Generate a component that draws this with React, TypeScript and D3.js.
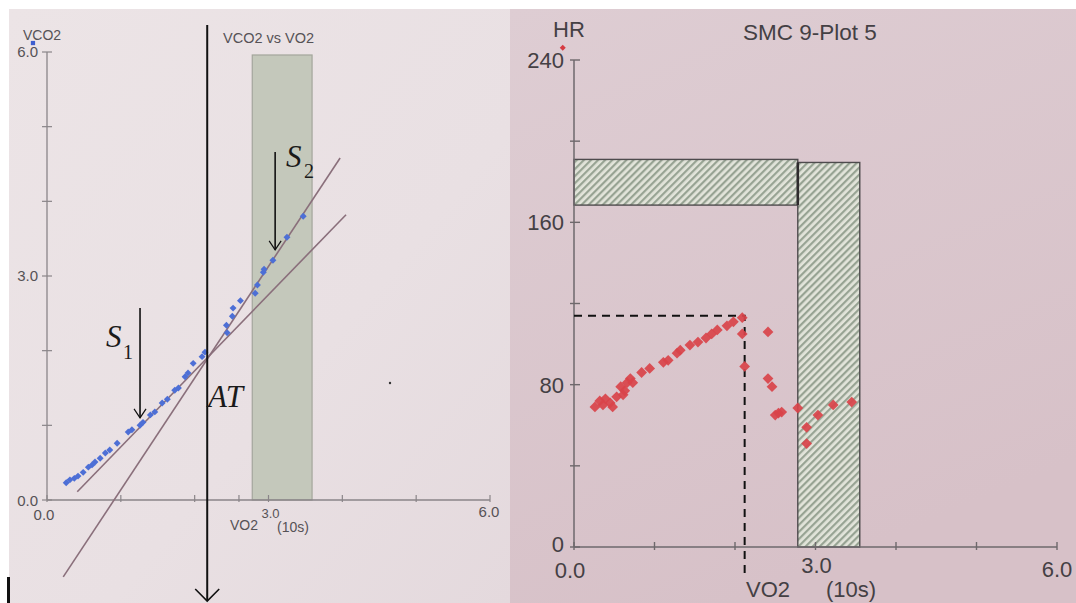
import React from "react";
import * as d3 from "d3";

// ---- VCO2 vs VO2 (left panel) ----
const vo2Blue = [0.26, 0.31, 0.37, 0.42, 0.49, 0.56, 0.61, 0.65, 0.72, 0.79, 0.85, 0.95, 1.10, 1.15, 1.26, 1.30, 1.40, 1.46, 1.56, 1.63, 1.73, 1.78, 1.87, 1.91, 1.98, 2.10, 2.14, 2.44, 2.43, 2.51, 2.52, 2.62, 2.82, 2.85, 2.93, 2.94, 3.06, 3.25, 3.47];
const vco2Blue = [0.23, 0.27, 0.29, 0.32, 0.37, 0.44, 0.47, 0.51, 0.56, 0.63, 0.67, 0.76, 0.91, 0.94, 1.00, 1.04, 1.14, 1.18, 1.30, 1.35, 1.47, 1.50, 1.65, 1.70, 1.83, 1.92, 1.98, 2.24, 2.34, 2.46, 2.57, 2.67, 2.77, 2.88, 3.05, 3.09, 3.21, 3.52, 3.80];

// regression lines below (S1) and above (S2) the threshold: [vo2, vco2] end points
const fitS1: [number, number][] = [[0.41, 0.11], [4.05, 3.82]];
const fitS2: [number, number][] = [[0.22, -1.03], [3.97, 4.58]];

const atVO2 = 2.17;          // anaerobic threshold
const s1Arrow = { x: 1.26, from: 2.57, to: 1.10 };
const s2Arrow = { x: 3.09, from: 4.66, to: 3.35 };
const bandVO2 = [2.78, 3.59];
const bandVCO2Top = 5.96;
const leftTicks = [0, 1, 2, 3, 4, 5, 6];
const leftExtraTickX = [2.6];
const leftLabels = ["0.0", "3.0", "6.0"];

// ---- HR vs VO2 (right panel) ----
const vo2Red = [0.26, 0.32, 0.39, 0.48, 0.53, 0.45, 0.36, 0.63, 0.66, 0.70, 0.73, 0.61, 0.58, 0.84, 0.94, 1.11, 1.17, 1.28, 1.32, 1.44, 1.54, 1.64, 1.71, 1.78, 1.90, 1.98, 2.09, 2.09, 2.12, 2.41, 2.41, 2.46, 2.50, 2.54, 2.58, 2.78, 2.89, 2.89, 3.03, 3.22, 3.45];
const hrRed = [69, 72, 73, 69, 74, 71, 70, 77, 81, 83, 81, 75, 79, 86, 88, 91, 92, 95.5, 97, 99.5, 101, 103, 105, 107, 109, 111, 113, 105, 89, 106, 83, 79, 65, 66, 66.5, 68.5, 59, 51, 65, 70, 71.4];

const hrTicks = [0, 40, 80, 120, 160, 200, 240];
const hrLabels = [0, 80, 160, 240];
const vo2TicksRight = [0, 1, 2, 3, 4, 5, 6];
const hrZoneBar = { x0: 0, x1: 2.78, hr0: 168.5, hr1: 191 };
const vo2ZoneBar = { x0: 2.78, x1: 3.55, hr0: 0, hr1: 189.5 };
const hrAtThreshold = 114;
const vo2AtThreshold = 2.12;

const sans = "'Liberation Sans', Arial, sans-serif";
const serif = "'Liberation Serif', 'Times New Roman', serif";

export default function App() {
  const xL = d3.scaleLinear().domain([0, 6]).range([47, 490]);
  const yL = d3.scaleLinear().domain([0, 6]).range([500, 52]);
  const xR = d3.scaleLinear().domain([0, 6]).range([574, 1057]);
  const yR = d3.scaleLinear().domain([0, 240]).range([547, 60]);

  const line = d3.line<[number, number]>().x((d) => xL(d[0])).y((d) => yL(d[1]));
  const redMark = d3.symbol().type(d3.symbolSquare).size(58)();
  const blueMark = d3.symbol().type(d3.symbolSquare).size(24)();
  const keyMark = d3.symbol().type(d3.symbolSquare).size(18)();

  const atX = xL(atVO2);
  const dashX = xR(vo2AtThreshold);
  const dashY = yR(hrAtThreshold);

  return (
    <svg width={1076} height={603} style={{ position: "absolute", left: 0, top: 0 }}>
      <defs>
        <pattern id="hatch" width={5} height={5} patternUnits="userSpaceOnUse" patternTransform="rotate(45)">
          <rect width={5} height={5} fill="#e2e4da" />
          <rect width={2.2} height={5} fill="#97a393" />
        </pattern>
        <linearGradient id="bgL" x1="0" y1="0" x2="1" y2="1">
          <stop offset="0" stopColor="#ece4e6" />
          <stop offset="0.6" stopColor="#e9e0e3" />
          <stop offset="1" stopColor="#e4d9dd" />
        </linearGradient>
        <linearGradient id="bgR" x1="0" y1="0" x2="0.4" y2="1">
          <stop offset="0" stopColor="#decdd3" />
          <stop offset="1" stopColor="#d7c1c8" />
        </linearGradient>
      </defs>

      <rect width={1076} height={603} fill="#ffffff" />
      <rect x={9} y={9} width={502} height={594} fill="url(#bgL)" />
      <rect x={510} y={9} width={566} height={594} fill="url(#bgR)" />

      {/* ---------- left panel ---------- */}
      <g fontFamily={sans} fill="#565256">
        <rect x={xL(bandVO2[0])} y={yL(bandVCO2Top)} width={xL(bandVO2[1]) - xL(bandVO2[0])}
          height={yL(0) - yL(bandVCO2Top)} fill="#c4c8bb" stroke="#a4a69c" strokeWidth={1.2} />

        <line x1={xL(0)} x2={xL(0)} y1={yL(6)} y2={yL(0)} stroke="#8a8589" strokeWidth={1.3} />
        <line x1={xL(0)} x2={xL(6)} y1={yL(0)} y2={yL(0)} stroke="#8a8589" strokeWidth={1.3} />
        {leftTicks.map((t) => (
          <line key={"ly" + t} x1={xL(0) - 5} x2={xL(0) + 5} y1={yL(t)} y2={yL(t)} stroke="#8a8589" strokeWidth={1.2} />
        ))}
        {leftTicks.concat(leftExtraTickX).map((t) => (
          <line key={"lx" + t} x1={xL(t)} x2={xL(t)} y1={yL(0) - 5} y2={yL(0) + 2} stroke="#8a8589" strokeWidth={1.2} />
        ))}

        {[0, 3, 6].map((t, i) => (
          <text key={"lyl" + t} x={xL(0) - 9} y={yL(t) + 5 + (t === 0 ? 1 : 0)} fontSize={15} textAnchor="end">{leftLabels[i]}</text>
        ))}
        <text x={xL(0) - 3} y={520} fontSize={15} textAnchor="middle">{leftLabels[0]}</text>
        <text x={xL(3) + 2} y={518} fontSize={13} textAnchor="middle">{leftLabels[1]}</text>
        <text x={xL(6) - 1} y={517} fontSize={15} textAnchor="middle">{leftLabels[2]}</text>
        <text x={230} y={530} fontSize={14}>VO2</text>
        <text x={277} y={532} fontSize={14}>(10s)</text>
        <text x={23} y={40} fontSize={14}>VCO2</text>
        <text x={223} y={43} fontSize={14.5}>VCO2 vs VO2</text>

        {/* series key marker */}
        <path d={keyMark} transform={`translate(${xL(-0.19)},${yL(6.12)})`} fill="#3f5fcf" />

        <path d={line(fitS1) || ""} stroke="#8a6f7b" strokeWidth={1.6} fill="none" />
        <path d={line(fitS2) || ""} stroke="#8a6f7b" strokeWidth={1.6} fill="none" />

        {vo2Blue.map((v, i) => (
          <path key={"b" + i} d={blueMark} transform={`translate(${xL(v)},${yL(vco2Blue[i])}) rotate(45)`} fill="#4d6fd6" />
        ))}

        {/* threshold marker */}
        <line x1={atX} x2={atX} y1={yL(6.36)} y2={601} stroke="#111" strokeWidth={2} />
        <path d={`M${atX - 12},${589} L${atX},${601} L${atX + 12},${589}`} stroke="#111" strokeWidth={1.6} fill="none" />

        {[s1Arrow, s2Arrow].map((a, i) => (
          <g key={"arr" + i} stroke="#111" fill="none">
            <line x1={xL(a.x)} x2={xL(a.x)} y1={yL(a.from)} y2={yL(a.to)} strokeWidth={1.6} />
            <path d={`M${xL(a.x) - 6},${yL(a.to) - 9} L${xL(a.x)},${yL(a.to)} L${xL(a.x) + 6},${yL(a.to) - 9}`} strokeWidth={1.2} />
          </g>
        ))}

        <g fill="#1a1a1a" fontFamily={serif}>
          <text x={106} y={347} fontSize={31} fontStyle="italic">S</text>
          <text x={123} y={359} fontSize={20}>1</text>
          <text x={286} y={167} fontSize={31} fontStyle="italic">S</text>
          <text x={304} y={178} fontSize={20}>2</text>
          <text x={208} y={407} fontSize={31} fontStyle="italic">AT</text>
        </g>

        <circle cx={390} cy={383} r={1.2} fill="#333" />
        <rect x={7} y={577} width={3} height={26} fill="#111" />
      </g>

      {/* ---------- right panel ---------- */}
      <g fontFamily={sans} fill="#444044">
        <rect x={xR(hrZoneBar.x0)} y={yR(hrZoneBar.hr1)} width={xR(hrZoneBar.x1) - xR(hrZoneBar.x0)}
          height={yR(hrZoneBar.hr0) - yR(hrZoneBar.hr1)} fill="url(#hatch)" stroke="#4e4b4d" strokeWidth={1.4} />
        <rect x={xR(vo2ZoneBar.x0)} y={yR(vo2ZoneBar.hr1)} width={xR(vo2ZoneBar.x1) - xR(vo2ZoneBar.x0)}
          height={yR(vo2ZoneBar.hr0) - yR(vo2ZoneBar.hr1)} fill="url(#hatch)" stroke="#4e4b4d" strokeWidth={1.4} />
        <line x1={xR(vo2ZoneBar.x0)} x2={xR(vo2ZoneBar.x0)} y1={yR(vo2ZoneBar.hr1)} y2={yR(hrZoneBar.hr0)} stroke="#2e2b2d" strokeWidth={2.6} />

        <line x1={xR(0)} x2={xR(0)} y1={yR(240)} y2={yR(0)} stroke="#6e686c" strokeWidth={1.5} />
        <line x1={xR(0)} x2={xR(6)} y1={yR(0)} y2={yR(0)} stroke="#6e686c" strokeWidth={1.5} />
        {hrTicks.map((t) => (
          <line key={"ry" + t} x1={xR(0) - 4} x2={xR(0) + 6} y1={yR(t)} y2={yR(t)} stroke="#6e686c" strokeWidth={1.4} />
        ))}
        {vo2TicksRight.map((t) => (
          <line key={"rx" + t} x1={xR(t)} x2={xR(t)} y1={yR(0) - 5} y2={yR(0) + 3} stroke="#6e686c" strokeWidth={1.4} />
        ))}

        {hrLabels.map((t) => (
          <text key={"ryl" + t} x={xR(0) - 10} y={yR(t) + (t === 0 ? 5 : 8)} fontSize={22} textAnchor="end">{t}</text>
        ))}
        <text x={xR(0) - 4} y={578} fontSize={22} textAnchor="middle">0.0</text>
        <text x={xR(3) + 1} y={573} fontSize={22} textAnchor="middle">3.0</text>
        <text x={xR(6)} y={577} fontSize={22} textAnchor="middle">6.0</text>
        <text x={746} y={597} fontSize={22}>VO2</text>
        <text x={826} y={597} fontSize={22}>(10s)</text>
        <text x={553} y={37} fontSize={22}>HR</text>
        <text x={743} y={40} fontSize={22.5}>SMC 9-Plot 5</text>

        {/* series key marker */}
        <path d={keyMark} transform={`translate(${xR(-0.14)},${yR(246)}) rotate(45)`} fill="#d63b42" />

        <path d={`M${xR(0)},${dashY} L${dashX},${dashY} L${dashX},${577}`} stroke="#111" strokeWidth={2} strokeDasharray="8,6" fill="none" />

        {vo2Red.map((v, i) => (
          <path key={"r" + i} d={redMark} transform={`translate(${xR(v)},${yR(hrRed[i])}) rotate(45)`} fill="#d9434a" fillOpacity={0.92} />
        ))}
      </g>
    </svg>
  );
}
